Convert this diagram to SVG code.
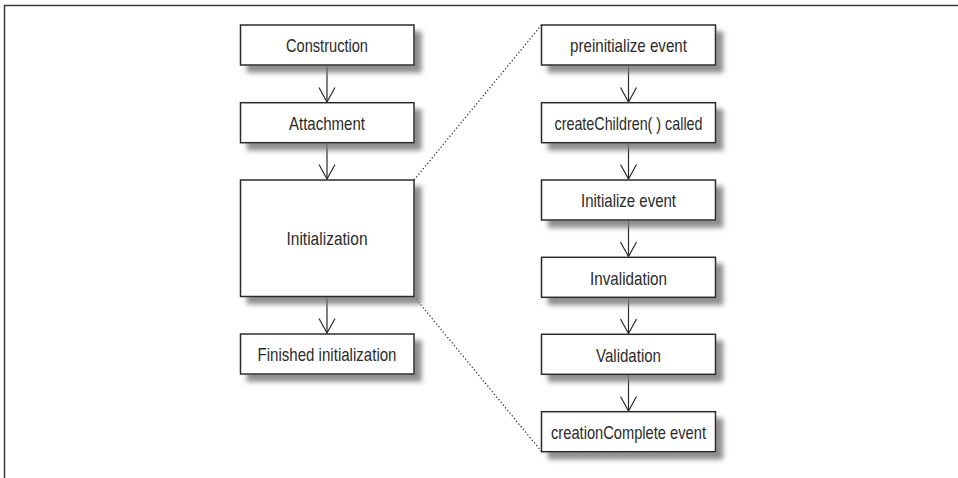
<svg xmlns="http://www.w3.org/2000/svg" width="958" height="478" viewBox="0 0 958 478">
<defs>
<style>
.box{fill:#fff;stroke:#2b2b2b;stroke-width:1.5;filter:url(#ds)}
.t{font-family:"Liberation Sans",Arial,sans-serif;font-size:19px;fill:#2b2b2b;text-anchor:middle}
.ln{stroke:#2b2b2b;stroke-width:1.2;fill:none}
.dot{stroke:#2b2b2b;stroke-width:1.2;fill:none;stroke-dasharray:1.3 2.2}
</style>
<filter id="ds" x="-20%" y="-30%" width="150%" height="180%">
<feDropShadow dx="7" dy="7" stdDeviation="2.8" flood-color="#7a7a7a" flood-opacity="0.85"/>
</filter>
<marker id="v" markerWidth="18" markerHeight="20" refX="15.5" refY="9" orient="auto" markerUnits="userSpaceOnUse" viewBox="0 0 18 20">
<path d="M1,1 L15.5,9 L1,17" fill="none" stroke="#2b2b2b" stroke-width="1.2"/>
</marker>
</defs>
<g id="frame">
<path d="M4.5,478 L4.5,5.5 L958,5.5" fill="none" stroke="#3a3a3a" stroke-width="1.5"/>
</g>
<g id="connectors">
<line class="ln" x1="327" y1="65" x2="327" y2="102" marker-end="url(#v)"/>
<line class="ln" x1="327" y1="143" x2="327" y2="179" marker-end="url(#v)"/>
<line class="ln" x1="327" y1="297" x2="327" y2="333" marker-end="url(#v)"/>
<line class="ln" x1="628.5" y1="65" x2="628.5" y2="102" marker-end="url(#v)"/>
<line class="ln" x1="628.5" y1="143" x2="628.5" y2="179" marker-end="url(#v)"/>
<line class="ln" x1="628.5" y1="220" x2="628.5" y2="256.5" marker-end="url(#v)"/>
<line class="ln" x1="628.5" y1="297.5" x2="628.5" y2="333.5" marker-end="url(#v)"/>
<line class="ln" x1="628.5" y1="374.5" x2="628.5" y2="411" marker-end="url(#v)"/>
<line class="dot" x1="414" y1="180" x2="541.5" y2="25"/>
<line class="dot" x1="414" y1="296.5" x2="541.5" y2="451.5"/>
</g>
<g id="construction">
<rect class="box" x="240.5" y="25" width="173.5" height="40"/>
<text class="t" x="327" y="52.3" textLength="82" lengthAdjust="spacingAndGlyphs">Construction</text>
</g>
<g id="attachment">
<rect class="box" x="240.5" y="102.7" width="173.5" height="40"/>
<text class="t" x="327" y="130" textLength="76" lengthAdjust="spacingAndGlyphs">Attachment</text>
</g>
<g id="initialization">
<rect class="box" x="240.5" y="180" width="173.5" height="116.5"/>
<text class="t" x="327" y="245" textLength="81" lengthAdjust="spacingAndGlyphs">Initialization</text>
</g>
<g id="finished">
<rect class="box" x="240.5" y="334" width="173.5" height="40"/>
<text class="t" x="327" y="361.3" textLength="139" lengthAdjust="spacingAndGlyphs">Finished initialization</text>
</g>
<g id="preinitialize">
<rect class="box" x="541.5" y="25" width="174" height="40"/>
<text class="t" x="628.5" y="52.3" textLength="117" lengthAdjust="spacingAndGlyphs">preinitialize event</text>
</g>
<g id="createChildren">
<rect class="box" x="541.5" y="102.7" width="174" height="40"/>
<text class="t" x="628.5" y="130" textLength="148" lengthAdjust="spacingAndGlyphs">createChildren( ) called</text>
</g>
<g id="initializeEvent">
<rect class="box" x="541.5" y="180" width="174" height="40"/>
<text class="t" x="628.5" y="207.3" textLength="95" lengthAdjust="spacingAndGlyphs">Initialize event</text>
</g>
<g id="invalidation">
<rect class="box" x="541.5" y="257.3" width="174" height="40"/>
<text class="t" x="628.5" y="284.6" textLength="77" lengthAdjust="spacingAndGlyphs">Invalidation</text>
</g>
<g id="validation">
<rect class="box" x="541.5" y="334.3" width="174" height="40"/>
<text class="t" x="628.5" y="361.6" textLength="65" lengthAdjust="spacingAndGlyphs">Validation</text>
</g>
<g id="creationComplete">
<rect class="box" x="541.5" y="411.7" width="174" height="40"/>
<text class="t" x="628.5" y="439" textLength="155" lengthAdjust="spacingAndGlyphs">creationComplete event</text>
</g>
</svg>
